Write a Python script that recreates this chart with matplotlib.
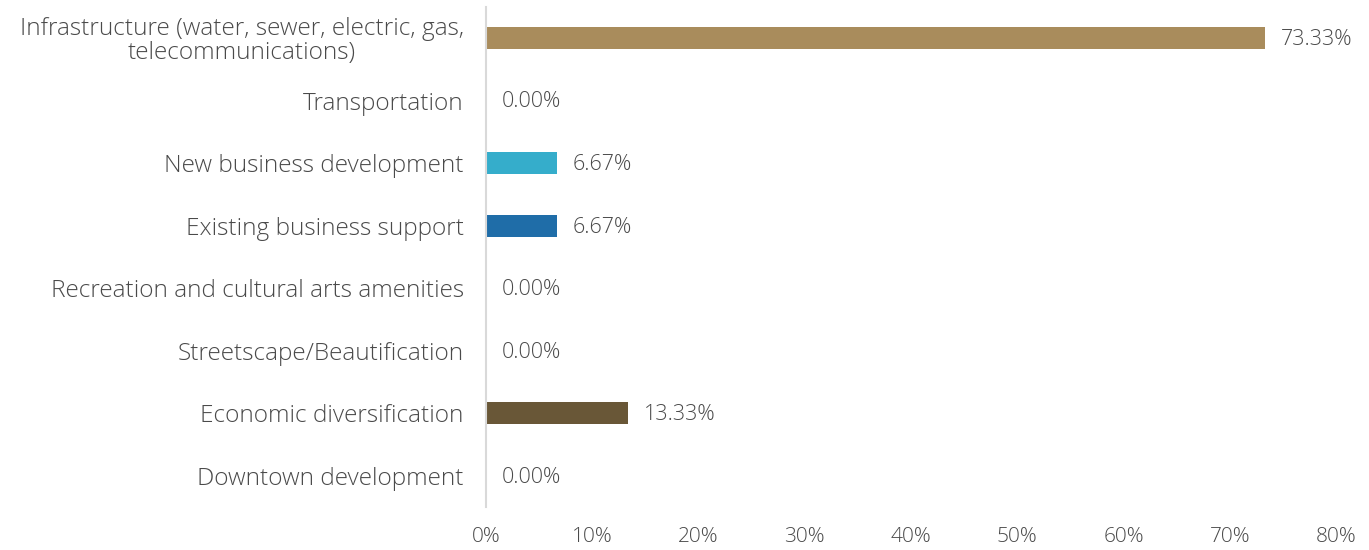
import matplotlib.pyplot as plt
from matplotlib.ticker import FuncFormatter

# datos
categorias = [
    "Infrastructure (water, sewer, electric, gas,\ntelecommunications)",
    "Transportation",
    "New business development",
    "Existing business support",
    "Recreation and cultural arts amenities",
    "Streetscape/Beautification",
    "Economic diversification",
    "Downtown development",
]
valores = [73.33, 0.00, 6.67, 6.67, 0.00, 0.00, 13.33, 0.00]
colores = ["#A98C5C", "#A98C5C", "#35ADCB", "#1F6DA8", "#A98C5C", "#A98C5C", "#695737", "#A98C5C"]

gris = "#4A4A4A"
plt.rcParams.update({
    "font.family": ["Open Sans", "DejaVu Sans"],
    "font.weight": "light",
    "font.size": 15,
    "text.color": gris,
})

fig = plt.figure(figsize=(13.69, 5.5), dpi=100)
ax = fig.add_axes([486 / 1369, 0.078, 850 / 1369, 0.9097])

pos = list(range(len(categorias)))
ax.barh(pos, valores, height=0.35, color=colores)
ax.invert_yaxis()
ax.set_ylim(len(categorias) - 0.5, -0.5)
ax.set_xlim(0, 80)

for y, v in zip(pos, valores):
    ax.annotate(f"{v:.2f}%", xy=(v, y), xytext=(11.5, -1), textcoords="offset points",
                va="center", ha="left", fontsize=15.5, color=gris)

ax.set_yticks(pos)
ax.set_yticklabels(categorias, ma="center", fontsize=17.6, color=gris,
                   linespacing=1.0)
ax.set_xticks(range(0, 81, 10))
ax.xaxis.set_major_formatter(FuncFormatter(lambda x, _: f"{x:.0f}%"))
ax.tick_params(axis="x", length=0, pad=14, labelsize=15, labelcolor=gris)
ax.tick_params(axis="y", length=0, pad=16, labelcolor=gris)

for s in ["top", "right", "bottom"]:
    ax.spines[s].set_visible(False)
ax.spines["left"].set_color("#D9D9D9")
ax.spines["left"].set_linewidth(1.5)

plt.savefig("out.png", dpi=100)
plt.close()
